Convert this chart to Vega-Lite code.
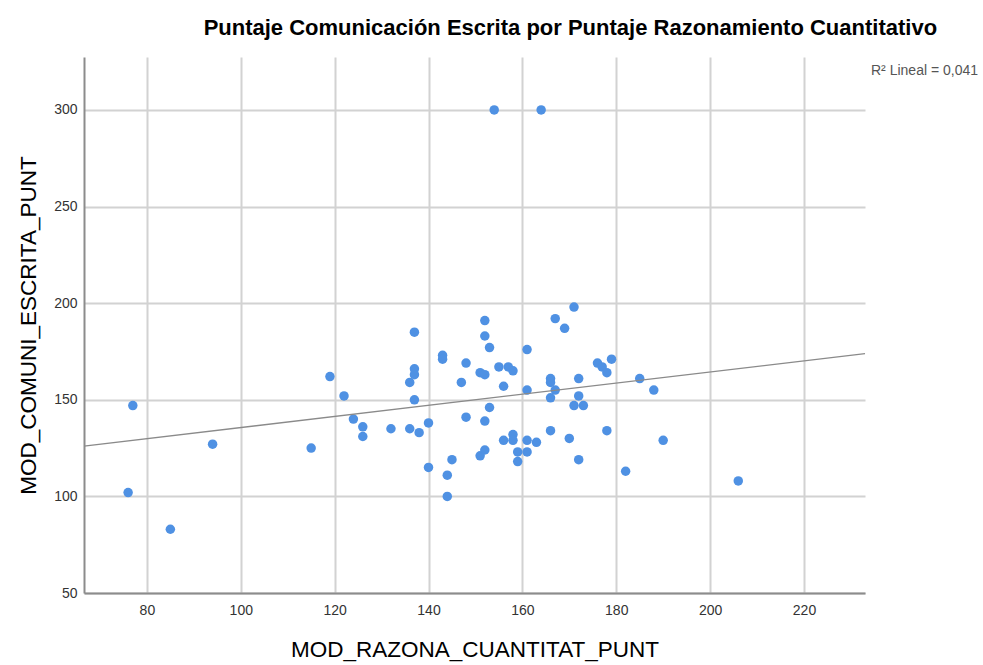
{
  "$schema": "https://vega.github.io/schema/vega-lite/v6.json",
  "autosize": "none",
  "width": 781,
  "height": 536,
  "padding": {"left": 84, "top": 57, "right": 118, "bottom": 72},
  "background": "white",
  "config": {
    "view": {"stroke": null},
    "font": "Liberation Sans"
  },
  "title": {
    "text": "Puntaje Comunicación Escrita por Puntaje Razonamiento Cuantitativo",
    "anchor": "start",
    "dx": 186,
    "offset": 17,
    "fontSize": 22,
    "fontWeight": "bold",
    "font": "Liberation Sans",
    "color": "#000000"
  },
  "datasets": {
    "pts": [
      {"razona": 77, "comuni": 147}, {"razona": 76, "comuni": 102}, {"razona": 85, "comuni": 83},
      {"razona": 94, "comuni": 127}, {"razona": 115, "comuni": 125}, {"razona": 119, "comuni": 162},
      {"razona": 122, "comuni": 152}, {"razona": 124, "comuni": 140}, {"razona": 126, "comuni": 136},
      {"razona": 126, "comuni": 131}, {"razona": 132, "comuni": 135}, {"razona": 136, "comuni": 135},
      {"razona": 138, "comuni": 133}, {"razona": 140, "comuni": 138}, {"razona": 140, "comuni": 115},
      {"razona": 144, "comuni": 111}, {"razona": 144, "comuni": 100}, {"razona": 145, "comuni": 119},
      {"razona": 137, "comuni": 150}, {"razona": 136, "comuni": 159}, {"razona": 137, "comuni": 163},
      {"razona": 137, "comuni": 166}, {"razona": 137, "comuni": 185}, {"razona": 143, "comuni": 173},
      {"razona": 143, "comuni": 171}, {"razona": 148, "comuni": 169}, {"razona": 147, "comuni": 159},
      {"razona": 148, "comuni": 141}, {"razona": 151, "comuni": 164}, {"razona": 152, "comuni": 163},
      {"razona": 152, "comuni": 191}, {"razona": 152, "comuni": 183}, {"razona": 153, "comuni": 177},
      {"razona": 152, "comuni": 139}, {"razona": 153, "comuni": 146}, {"razona": 151, "comuni": 121},
      {"razona": 152, "comuni": 124}, {"razona": 155, "comuni": 167}, {"razona": 157, "comuni": 167},
      {"razona": 158, "comuni": 165}, {"razona": 156, "comuni": 157}, {"razona": 156, "comuni": 129},
      {"razona": 158, "comuni": 132}, {"razona": 158, "comuni": 129}, {"razona": 159, "comuni": 123},
      {"razona": 159, "comuni": 118}, {"razona": 161, "comuni": 176}, {"razona": 161, "comuni": 155},
      {"razona": 161, "comuni": 129}, {"razona": 161, "comuni": 123}, {"razona": 163, "comuni": 128},
      {"razona": 166, "comuni": 161}, {"razona": 166, "comuni": 159}, {"razona": 166, "comuni": 151},
      {"razona": 167, "comuni": 155}, {"razona": 166, "comuni": 134}, {"razona": 167, "comuni": 192},
      {"razona": 169, "comuni": 187}, {"razona": 171, "comuni": 198}, {"razona": 170, "comuni": 130},
      {"razona": 172, "comuni": 161}, {"razona": 172, "comuni": 152}, {"razona": 171, "comuni": 147},
      {"razona": 173, "comuni": 147}, {"razona": 172, "comuni": 119}, {"razona": 176, "comuni": 169},
      {"razona": 177, "comuni": 167}, {"razona": 178, "comuni": 164}, {"razona": 179, "comuni": 171},
      {"razona": 178, "comuni": 134}, {"razona": 182, "comuni": 113}, {"razona": 185, "comuni": 161},
      {"razona": 188, "comuni": 155}, {"razona": 190, "comuni": 129}, {"razona": 206, "comuni": 108},
      {"razona": 154, "comuni": 300}, {"razona": 164, "comuni": 300}
    ],
    "note": [{"label": "R² Lineal = 0,041", "razona": 233, "comuni": 320}]
  },
  "layer": [
    {
      "data": {"name": "pts"},
      "mark": {"type": "circle", "size": 90, "opacity": 1, "color": "#4f91e3"},
      "encoding": {
        "x": {
          "field": "razona", "type": "quantitative",
          "scale": {"domain": [66.6, 233], "nice": false, "zero": false},
          "axis": {
            "title": "MOD_RAZONA_CUANTITAT_PUNT",
            "values": [80, 100, 120, 140, 160, 180, 200, 220],
            "grid": true, "gridColor": "#d2d2d2", "gridWidth": 2,
            "domainColor": "#8c8c8c", "domainWidth": 2,
            "ticks": false, "labelPadding": 10,
            "labelFontSize": 14, "labelColor": "#333333", "labelFont": "Liberation Sans",
            "titleFontSize": 22.5, "titleFontWeight": "normal", "titleColor": "#000000",
            "titleFont": "Liberation Sans", "titlePadding": 21
          }
        },
        "y": {
          "field": "comuni", "type": "quantitative",
          "scale": {"domain": [50, 327.4], "nice": false, "zero": false},
          "axis": {
            "title": "MOD_COMUNI_ESCRITA_PUNT",
            "values": [50, 100, 150, 200, 250, 300],
            "grid": true, "gridColor": "#d2d2d2", "gridWidth": 2,
            "domainColor": "#8c8c8c", "domainWidth": 2,
            "ticks": false, "labelPadding": 7,
            "labelFontSize": 14, "labelColor": "#333333", "labelFont": "Liberation Sans",
            "titleFontSize": 22.5, "titleFontWeight": "normal", "titleColor": "#000000",
            "titleFont": "Liberation Sans", "titlePadding": 13
          }
        }
      }
    },
    {
      "data": {"name": "pts"},
      "transform": [
        {"regression": "comuni", "on": "razona", "method": "linear", "extent": [66.6, 233]}
      ],
      "mark": {"type": "line", "color": "#8a8a8a", "strokeWidth": 1.3},
      "encoding": {
        "x": {"field": "razona", "type": "quantitative"},
        "y": {"field": "comuni", "type": "quantitative"}
      }
    },
    {
      "data": {"name": "note"},
      "mark": {"type": "text", "align": "left", "baseline": "middle", "dx": 6, "fontSize": 14, "color": "#555555", "font": "Liberation Sans"},
      "encoding": {
        "x": {"field": "razona", "type": "quantitative"},
        "y": {"field": "comuni", "type": "quantitative"},
        "text": {"field": "label"}
      }
    }
  ]
}
